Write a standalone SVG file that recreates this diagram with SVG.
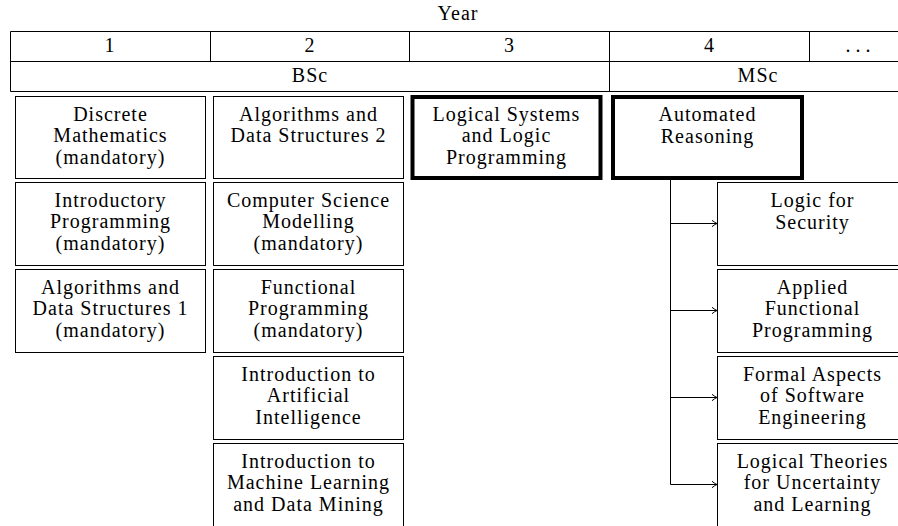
<svg xmlns="http://www.w3.org/2000/svg" width="898" height="526" viewBox="0 0 898 526">
<defs>
<style>
text{font-family:"Liberation Serif","Times New Roman",serif;font-size:20px;letter-spacing:1px;fill:#000;text-anchor:middle}
.box{fill:#fff;stroke:#000;stroke-width:1}
.thick{fill:#fff;stroke:#000;stroke-width:4}
.ln{fill:none;stroke:#000;stroke-width:1}
</style>
<marker id="arr" viewBox="0 0 8 8" refX="7" refY="4" markerWidth="8" markerHeight="8" markerUnits="userSpaceOnUse" orient="auto">
<path d="M2,0.8 Q5,3.3 7,4 Q5,4.7 2,7.2" fill="none" stroke="#000" stroke-width="1"/>
</marker>
</defs>
<rect width="898" height="526" fill="#fff"/>
<g id="header">
<text x="458" y="20">Year</text>
<path class="ln" d="M10.5,31.5H910M10.5,61.5H910M10.5,91.5H910M10.5,31.5V91.5M210.5,31.5V61.5M409.5,31.5V61.5M609.5,31.5V91.5M809.5,31.5V61.5"/>
<text x="110" y="52">1</text>
<text x="310" y="52">2</text>
<text x="509.5" y="52">3</text>
<text x="709.5" y="52">4</text>
<text x="858" y="52" style="letter-spacing:0">. . .</text>
<text x="310" y="82">BSc</text>
<text x="758" y="82">MSc</text>
</g>
<g id="dm"><rect class="box" x="15.5" y="96.5" width="190" height="82"/><text x="110.5" y="120.5">Discrete<tspan x="110.5" dy="21.5">Mathematics</tspan><tspan x="110.5" dy="21.5">(mandatory)</tspan></text></g>
<g id="ip"><rect class="box" x="15.5" y="182.5" width="190" height="83"/><text x="110.5" y="206.5">Introductory<tspan x="110.5" dy="21.5">Programming</tspan><tspan x="110.5" dy="21.5">(mandatory)</tspan></text></g>
<g id="ads1"><rect class="box" x="15.5" y="269.5" width="190" height="83"/><text x="110.5" y="293.5">Algorithms and<tspan x="110.5" dy="21.5">Data Structures 1</tspan><tspan x="110.5" dy="21.5">(mandatory)</tspan></text></g>
<g id="ads2"><rect class="box" x="213.5" y="96.5" width="190" height="82"/><text x="308.5" y="120.5">Algorithms and<tspan x="308.5" dy="21.5">Data Structures 2</tspan></text></g>
<g id="csm"><rect class="box" x="213.5" y="182.5" width="190" height="83"/><text x="308.5" y="206.5">Computer Science<tspan x="308.5" dy="21.5">Modelling</tspan><tspan x="308.5" dy="21.5">(mandatory)</tspan></text></g>
<g id="fp"><rect class="box" x="213.5" y="269.5" width="190" height="83"/><text x="308.5" y="293.5">Functional<tspan x="308.5" dy="21.5">Programming</tspan><tspan x="308.5" dy="21.5">(mandatory)</tspan></text></g>
<g id="iai"><rect class="box" x="213.5" y="356.5" width="190" height="83"/><text x="308.5" y="380.5">Introduction to<tspan x="308.5" dy="21.5">Artificial</tspan><tspan x="308.5" dy="21.5">Intelligence</tspan></text></g>
<g id="imldm"><rect class="box" x="213.5" y="443.5" width="190" height="83"/><text x="308.5" y="467.5">Introduction to<tspan x="308.5" dy="21.5">Machine Learning</tspan><tspan x="308.5" dy="21.5">and Data Mining</tspan></text></g>
<g id="lslp"><rect class="thick" x="412.5" y="97" width="188" height="81"/><text x="506.5" y="120.5">Logical Systems<tspan x="506.5" dy="21.5">and Logic</tspan><tspan x="506.5" dy="21.5">Programming</tspan></text></g>
<g id="ar"><rect class="thick" x="613" y="97" width="189" height="81"/><text x="707.5" y="121">Automated<tspan x="707.5" dy="21.5">Reasoning</tspan></text></g>
<g id="lfs"><rect class="box" x="717.5" y="182.5" width="190" height="83"/><text x="812.5" y="207">Logic for<tspan x="812.5" dy="21.5">Security</tspan></text></g>
<g id="afp"><rect class="box" x="717.5" y="269.5" width="190" height="83"/><text x="812.5" y="293.5">Applied<tspan x="812.5" dy="21.5">Functional</tspan><tspan x="812.5" dy="21.5">Programming</tspan></text></g>
<g id="fase"><rect class="box" x="717.5" y="356.5" width="190" height="83"/><text x="812.5" y="380.5">Formal Aspects<tspan x="812.5" dy="21.5">of Software</tspan><tspan x="812.5" dy="21.5">Engineering</tspan></text></g>
<g id="ltul"><rect class="box" x="717.5" y="443.5" width="190" height="83"/><text x="812.5" y="467.5">Logical Theories<tspan x="812.5" dy="21.5">for Uncertainty</tspan><tspan x="812.5" dy="21.5">and Learning</tspan></text></g>
<g id="connectors">
<path class="ln" d="M670.5,180V484.5"/>
<path class="ln" marker-end="url(#arr)" d="M670.5,223.5H717"/>
<path class="ln" marker-end="url(#arr)" d="M670.5,310.5H717"/>
<path class="ln" marker-end="url(#arr)" d="M670.5,397.5H717"/>
<path class="ln" marker-end="url(#arr)" d="M670.5,484.5H717"/>
</g>
</svg>
